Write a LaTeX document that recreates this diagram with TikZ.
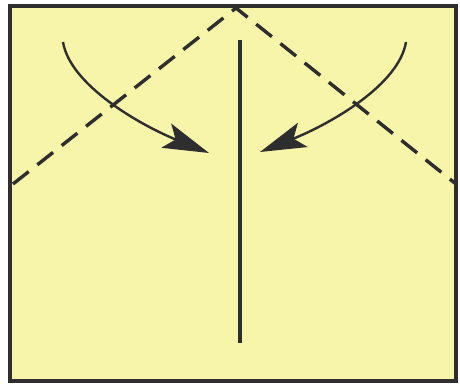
\documentclass[tikz,border=0pt]{standalone}
\usetikzlibrary{arrows.meta}
\definecolor{paper}{HTML}{F7F5AA}
\definecolor{ink}{HTML}{2E2E2E}
\tikzset{
  sheet/.style={fill=paper, draw=ink, line width=4pt},
  fold/.style={draw=ink, line width=3.4pt, dash pattern=on 20pt off 11pt},
  crease/.style={draw=ink, line width=4pt},
  move/.style={draw=ink, line width=2.4pt, -{Stealth[length=46pt, width=26pt, inset=10pt]}}
}
\begin{document}
\begin{tikzpicture}[x=1pt, y=-1pt]
\useasboundingbox (0,0) rectangle (460,387);
\fill[white] (0,0) rectangle (460,387);
\draw[sheet] (10,6) rectangle (456,381);
\coordinate (apex) at (236,8);
\coordinate (lend) at (13,184);
\coordinate (rend) at (456,184);
\draw[fold] (lend) -- (apex) -- (rend);
\coordinate (ctop) at (240,40);
\coordinate (cbot) at (240,343);
\draw[crease] (ctop) -- (cbot);
\coordinate (la) at (63,42);
\coordinate (lb) at (209,153);
\draw[move] (la) .. controls (70,85) and (140,125) .. (lb);
\coordinate (ra) at (406,42);
\coordinate (rb) at (260,152);
\draw[move] (ra) .. controls (399,85) and (330,124) .. (rb);
\end{tikzpicture}
\end{document}
